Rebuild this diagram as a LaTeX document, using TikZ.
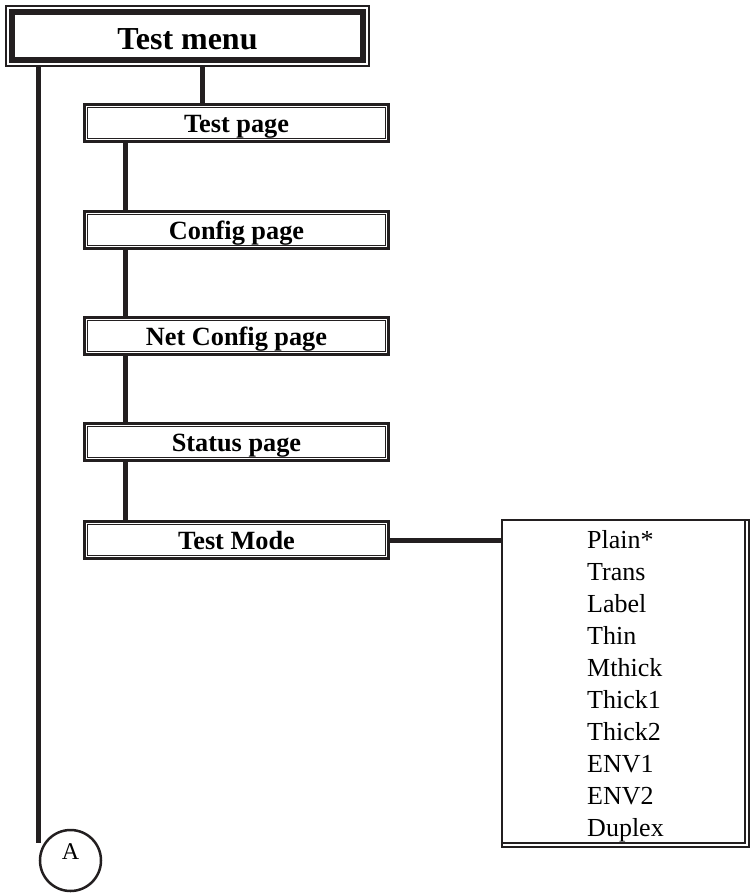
\documentclass[tikz,border=0pt]{standalone}
\usepackage{fontspec}
\setmainfont{Liberation Serif}
\usetikzlibrary{calc,positioning}
\definecolor{inkblack}{HTML}{231F20}
\tikzset{
  menuframe/.style={draw=inkblack, line width=1.2pt, minimum width=363pt, minimum height=60pt, inner sep=0pt, font=\fontsize{32}{36}\selectfont\bfseries, text height=26pt, text depth=0pt},
  menuband/.style={draw=inkblack, line width=6pt},
  pagebox/.style={draw=inkblack, line width=3pt, minimum width=304pt, minimum height=37pt, inner sep=0pt, font=\fontsize{26.3}{30}\selectfont\bfseries, text height=19pt, text depth=1pt},
  pageinner/.style={draw=inkblack, line width=1pt},
  link/.style={draw=inkblack, line width=5pt},
  listbox/.style={draw=inkblack, line width=1.5pt, minimum width=247pt, minimum height=327pt, inner sep=0pt, align=left, font=\fontsize{26}{32}\selectfont},
  listshade/.style={draw=inkblack, line width=1.5pt},
  onpage/.style={circle, draw=inkblack, line width=2.5pt, minimum size=61pt, inner sep=0pt, font=\fontsize{24}{28}\selectfont, text height=16pt, text depth=19pt}
}
\begin{document}
\begin{tikzpicture}[x=1pt,y=-1pt]
  \useasboundingbox (0,0) rectangle (752,894);
  % menu title
  \node[menuframe] (menu) at (187.5,36) {Test menu};
  \draw[menuband] ([shift={(6.5,6.5)}]menu.north west) rectangle ([shift={(-6.5,-6.5)}]menu.south east);
  % pages
  \node[pagebox] (testpg) at (236.5,123) {Test page};
  \node[pagebox] (cfgpg) at (236.5,230) {Config page};
  \node[pagebox] (netpg) at (236.5,336) {Net Config page};
  \node[pagebox] (statpg) at (236.5,442) {Status page};
  \node[pagebox] (testmode) at (236.5,540) {Test Mode};
  \foreach \n in {testpg,cfgpg,netpg,statpg,testmode}
    \draw[pageinner] ([shift={(4.5,4.5)}]\n.north west) rectangle ([shift={(-4.5,-4.5)}]\n.south east);
  % mode list
  \node[listbox] (modes) at (625.5,683.5) {\rule{0pt}{23pt}Plain*\\Trans\\Label\\Thin\\Mthick\\Thick1\\Thick2\\ENV1\\ENV2\\Duplex};
  \draw[listshade] ([shift={(-4.75,0.75)}]modes.north east) -- ([shift={(-4.75,-4.75)}]modes.south east) -- ([shift={(0.75,-4.75)}]modes.south west);
  % off-page connector
  \node[onpage] (pageA) at (70.5,860.5) {A};
  % links
  \draw[link] ([xshift=-34pt]testpg.north) -- ([xshift=-34pt]testpg.north |- menu.south);
  \foreach \a/\b in {testpg/cfgpg,cfgpg/netpg,netpg/statpg,statpg/testmode}
    \draw[link] ([xshift=-111.5pt]\a.south) -- ([xshift=-111.5pt]\b.north);
  \draw[link] (testmode.east) -- (modes.west |- testmode.east);
  \draw[link] (menu.south -| pageA.west) -- ([yshift=18pt]pageA.west);
\end{tikzpicture}
\end{document}
